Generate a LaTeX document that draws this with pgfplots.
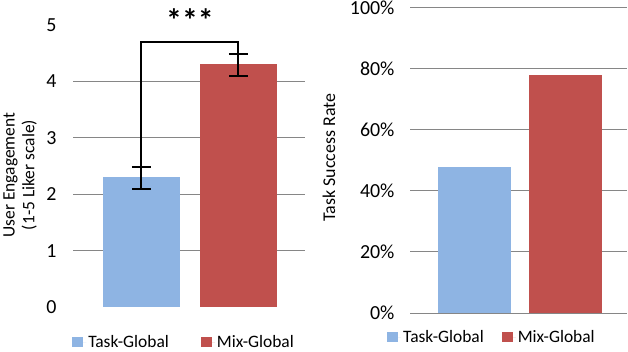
\documentclass[border=0pt]{standalone}
\usepackage{fontspec}
\setmainfont{Carlito}
\usepackage{pgfplots}
\pgfplotsset{compat=1.18}
\definecolor{tgblue}{HTML}{8EB4E3}
\definecolor{mgred}{HTML}{C0504D}
\definecolor{gridgray}{HTML}{868686}

\pgfplotsset{
  xlstyle/.style={
    scale only axis,
    ybar, bar shift=0pt,
    legend image code/.code={\fill[##1] (0bp,-5bp) rectangle (11bp,5bp);
      \path (0bp,0bp) -- (14bp,0bp);},
    axis line style={draw=none},
    major tick length=0pt,
    xtick=\empty,
    clip=false,
    major grid style={gridgray, line width=1bp},
    tick label style={font=\fontsize{20}{22}\selectfont},
    legend style={draw=none, fill=none, legend columns=2, anchor=west,
      font=\fontsize{17.5}{20}\selectfont, inner sep=0pt},
  },
  errs/.style={
    error bars/.cd, y dir=both, y explicit,
    error bar style={black, line width=2bp},
    error mark options={rotate=90, mark size=9.5bp, line width=2bp, black},
  },
}

\begin{document}
\begin{tikzpicture}
\useasboundingbox (0,0) rectangle (628bp,352bp);

% left: user engagement
\begin{axis}[xlstyle,
  at={(73bp,45bp)}, anchor=south west,
  width=232bp, height=282bp,
  xmin=-0.706, xmax=1.686, ymin=0, ymax=5,
  bar width=77bp,
  ytick={0,1,2,3,4,5},
  yticklabels={0,1,2,3,4,5},
  yticklabel style={anchor=east, xshift=-13bp},
  extra y ticks={1,2,3,4}, extra y tick labels={},
  extra y tick style={grid=major},
  every axis y label/.style={at={(axis description cs:-0.228,0.468)},
    rotate=90, anchor=center, align=center,
    font=\fontsize{17.5}{20}\selectfont},
  ylabel={User Engagement\\(1-5 Liker scale)},
  legend style={at={(axis description cs:-0.004,-0.125)},
    /tikz/every even column/.append style={column sep=30bp}},
]
\addplot[fill=tgblue, draw=none, errs] coordinates {(0,2.3) += (0,0.18) -= (0,0.2)};
\addplot[fill=mgred, draw=none, errs] coordinates {(1,4.3) += (0,0.18) -= (0,0.2)};
\legend{Task-Global, Mix-Global}
\draw[black, line width=2bp] (axis cs:0,2.48) |- (axis cs:1,4.7) -- (axis cs:1,4.48);
\node[font=\fontsize{32}{34}\selectfont\bfseries] at (axis cs:0.5,5.08) {***};
\end{axis}

% right: task success rate
\begin{axis}[xlstyle,
  at={(410bp,39bp)}, anchor=south west,
  width=217bp, height=305bp,
  xmin=-0.709, xmax=1.676, ymin=0, ymax=100,
  bar width=73bp,
  ytick={0,20,40,60,80,100},
  yticklabels={0\%,20\%,40\%,60\%,80\%,100\%},
  yticklabel style={anchor=east, xshift=-12bp},
  ymajorgrids,
  every axis y label/.style={at={(axis description cs:-0.373,0.51)},
    rotate=90, anchor=center,
    font=\fontsize{18}{20}\selectfont},
  ylabel={Task Success Rate},
  legend style={at={(axis description cs:-0.106,-0.079)},
    /tikz/every even column/.append style={column sep=16bp}},
]
\addplot[fill=tgblue, draw=none] coordinates {(0,48)};
\addplot[fill=mgred, draw=none] coordinates {(1,78)};
\legend{Task-Global, Mix-Global}
\end{axis}
\end{tikzpicture}
\end{document}
